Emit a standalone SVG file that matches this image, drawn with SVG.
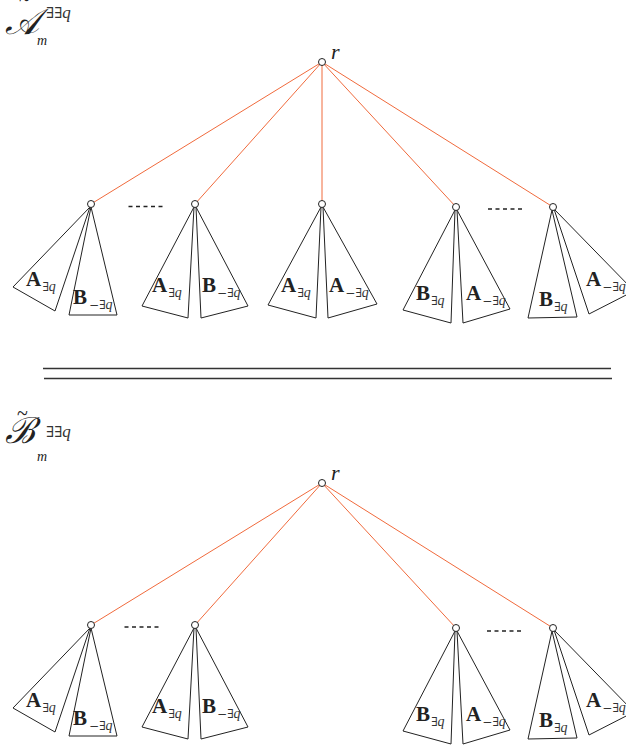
<svg xmlns="http://www.w3.org/2000/svg" width="626" height="748" viewBox="0 0 626 748">
<style>
.e{stroke:#f06a3c;stroke-width:1;fill:none}
.t{fill:#fff;stroke:#222;stroke-width:1;stroke-linejoin:miter}
.n{fill:#fff;stroke:#222;stroke-width:1}
.dots{stroke:#222;stroke-width:1.4;stroke-dasharray:4 3.5}
.big{font-family:"Liberation Serif","DejaVu Serif",serif;font-weight:bold;font-size:21px;fill:#222}
.sub{font-family:"DejaVu Serif","Liberation Serif",serif;font-weight:normal;font-size:12px;fill:#333}
.i{font-family:"Liberation Serif",serif;font-style:italic;font-size:14px}
.r{font-family:"Liberation Serif",serif;font-style:italic;font-size:22px;fill:#222}
.ttl{font-family:"DejaVu Serif","Liberation Serif",serif;font-style:italic;font-size:36px;fill:#222}
.tl{font-family:"Liberation Serif",serif;font-size:20px;fill:#222}
.sup{font-family:"DejaVu Serif","Liberation Serif",serif;font-size:15px;fill:#333}
.sm{font-family:"Liberation Serif",serif;font-style:italic;font-size:14px;fill:#222}
.sep{stroke:#333;stroke-width:1.6}
</style>
<defs>
<g id="c1">
<polygon class="t" points="90,207 13,287 55,311"/>
<polygon class="t" points="91,207 69,315 117,315"/>
<text class="big" x="26" y="286">A<tspan class="sub" dx="1" dy="5">∃<tspan class="i">q</tspan></tspan></text>
<text class="big" x="73" y="304">B<tspan class="sub" dx="2" dy="5">−∃<tspan class="i">q</tspan></tspan></text>
<circle class="n" cx="91" cy="204" r="3.5"/>
</g>
<g id="c2">
<polygon class="t" points="194,207 142,306 188,318"/>
<polygon class="t" points="196,207 201,318 248,306"/>
<text class="big" x="152" y="292">A<tspan class="sub" dx="1" dy="5">∃<tspan class="i">q</tspan></tspan></text>
<text class="big" x="202" y="292">B<tspan class="sub" dx="1" dy="5">−∃<tspan class="i">q</tspan></tspan></text>
<circle class="n" cx="195" cy="204" r="3.5"/>
</g>
<g id="c4">
<polygon class="t" points="455,210 403,310 451,323"/>
<polygon class="t" points="457,210 463,323 510,309"/>
<text class="big" x="416" y="300">B<tspan class="sub" dx="1" dy="5">∃<tspan class="i">q</tspan></tspan></text>
<text class="big" x="466" y="300">A<tspan class="sub" dx="1" dy="5">−∃<tspan class="i">q</tspan></tspan></text>
<circle class="n" cx="456" cy="207" r="3.5"/>
</g>
<g id="c5">
<polygon class="t" points="554,209 634,291 589,314"/>
<polygon class="t" points="552,210 528,318 577,317"/>
<text class="big" x="539" y="306">B<tspan class="sub" dx="1" dy="5">∃<tspan class="i">q</tspan></tspan></text>
<text class="big" x="586" y="286">A<tspan class="sub" dx="1" dy="5">−∃<tspan class="i">q</tspan></tspan></text>
<circle class="n" cx="553" cy="207" r="3.5"/>
</g>
</defs>

<g id="title-top">
<text class="tl" x="19" y="6">~</text>
<text class="ttl" x="5" y="34">𝒜</text>
<text class="sup" x="46" y="18">∃∃<tspan font-family="Liberation Serif" font-style="italic" font-size="17px">q</tspan></text>
<text class="sm" x="37" y="45">m</text>
</g>

<g id="connectors-top">
<line class="e" x1="322" y1="62" x2="91" y2="204"/>
<line class="e" x1="322" y1="62" x2="195" y2="204"/>
<line class="e" x1="322" y1="62" x2="322" y2="204"/>
<line class="e" x1="322" y1="62" x2="456" y2="207"/>
<line class="e" x1="322" y1="62" x2="553" y2="207"/>
</g>

<g id="root-top">
<circle class="n" cx="322" cy="62" r="3.5"/>
<text class="r" x="331" y="59">r</text>
</g>

<g id="top-child-1"><use href="#c1"/></g>
<g id="top-child-2"><use href="#c2"/></g>
<g id="top-child-3">
<polygon class="t" points="321,207 268,305 316,318"/>
<polygon class="t" points="323,207 328,318 377,304"/>
<text class="big" x="281" y="292">A<tspan class="sub" dx="1" dy="5">∃<tspan class="i">q</tspan></tspan></text>
<text class="big" x="329" y="292">A<tspan class="sub" dx="1" dy="5">−∃<tspan class="i">q</tspan></tspan></text>
<circle class="n" cx="322" cy="204" r="3.5"/>
</g>
<g id="top-child-4"><use href="#c4"/></g>
<g id="top-child-5"><use href="#c5"/></g>
<line class="dots" x1="128.5" y1="206.5" x2="164" y2="206.5"/>
<line class="dots" x1="488" y1="209" x2="523.5" y2="209"/>

<g id="separator">
<line class="sep" x1="43" y1="368.5" x2="611" y2="368.5"/>
<line class="sep" x1="44" y1="378.5" x2="612" y2="378.5"/>
</g>

<g id="title-bottom">
<text class="tl" x="17" y="420">~</text>
<text class="ttl" x="5" y="443">ℬ</text>
<text class="sup" x="46" y="437">∃∃<tspan font-family="Liberation Serif" font-style="italic" font-size="17px">q</tspan></text>
<text class="sm" x="37" y="461">m</text>
</g>

<g id="connectors-bottom">
<line class="e" x1="322" y1="483" x2="91" y2="625"/>
<line class="e" x1="322" y1="483" x2="195" y2="625"/>
<line class="e" x1="322" y1="483" x2="456" y2="628"/>
<line class="e" x1="322" y1="483" x2="553" y2="628"/>
</g>

<g id="root-bottom">
<circle class="n" cx="322" cy="483" r="3.5"/>
<text class="r" x="331" y="480">r</text>
</g>

<g id="bottom-child-1" transform="translate(0,421)"><use href="#c1"/></g>
<g id="bottom-child-2" transform="translate(0,421)"><use href="#c2"/></g>
<g id="bottom-child-4" transform="translate(0,421)"><use href="#c4"/></g>
<g id="bottom-child-5" transform="translate(0,421)"><use href="#c5"/></g>
<line class="dots" x1="124.5" y1="627" x2="160" y2="627"/>
<line class="dots" x1="487" y1="631" x2="522.5" y2="631"/>
</svg>
